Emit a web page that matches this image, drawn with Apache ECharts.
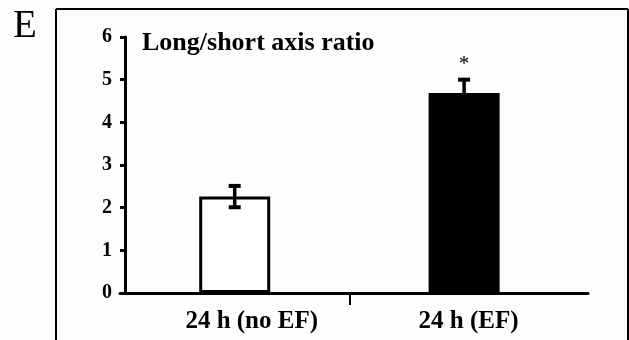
<!DOCTYPE html>
<html>
<head>
<meta charset="utf-8">
<script src="https://cdn.jsdelivr.net/npm/echarts@6/dist/echarts.min.js"></script>
<style>html,body{margin:0;padding:0;background:#fdfdff;}#c{width:629px;height:340px;}</style>
</head>
<body>
<div id="c"></div>
<script>
const categories = ['24 h (no EF)', '24 h (EF)'];
const means = [2.26, 4.69];
const errors = [0.25, 0.31];
const yTicks = [0, 1, 2, 3, 4, 5, 6];
const significance = ['', '*'];

const serif = 'Liberation Serif, Times New Roman, serif';
const chart = echarts.init(document.getElementById('c'));

const barData = means.map((m, i) => ({
  value: [i, m],
  itemStyle: i === 0
    ? { color: '#ffffff', borderColor: '#000', borderWidth: 3 }
    : { color: '#000000' }
}));

const errData = means.map((m, i) => [i, m, errors[i], significance[i]]);

chart.setOption({
  backgroundColor: '#fdfdff',
  animation: false,
  title: {
    text: 'Long/short axis ratio',
    left: 137, top: 25,
    textStyle: { fontFamily: serif, fontWeight: 'bold', fontSize: 26, color: '#000' }
  },
  graphic: [
    { type: 'line', shape: { x1: 56, y1: 9, x2: 628, y2: 9 }, style: { stroke: '#000', lineWidth: 2 } },
    { type: 'line', shape: { x1: 56, y1: 9, x2: 56, y2: 340 }, style: { stroke: '#000', lineWidth: 2 } },
    { type: 'line', shape: { x1: 628, y1: 9, x2: 628, y2: 340 }, style: { stroke: '#000', lineWidth: 2 } },
    { type: 'text', left: 13, top: 7, style: { text: 'E', fontFamily: serif, fontSize: 39, fill: '#000' } }
  ],
  grid: { left: 120, right: 41, top: 37, bottom: 47 },
  xAxis: {
    type: 'value',
    min: -0.5, max: 1.54,
    splitLine: { show: false },
    axisLine: { show: true, onZero: false, lineStyle: { color: '#000', width: 3 } },
    axisTick: { show: true, customValues: [0.5], length: 12, lineStyle: { color: '#000', width: 2 } },
    axisLabel: {
      customValues: [0, 1],
      margin: 16,
      formatter: v => v === 0 ? '{a|' + categories[0] + '}' : '{b|' + categories[v] + '}',
      rich: {
        a: { fontFamily: serif, fontWeight: 'bold', fontSize: 25, color: '#000', padding: [0, 0, 0, 34] },
        b: { fontFamily: serif, fontWeight: 'bold', fontSize: 25, color: '#000', padding: [0, 0, 0, 9] }
      }
    }
  },
  yAxis: {
    type: 'value',
    min: 0, max: 6, interval: 1,
    offset: -5,
    splitLine: { show: false },
    axisLine: { show: true, onZero: false, lineStyle: { color: '#000', width: 3 } },
    axisTick: { show: true, length: 5, lineStyle: { color: '#000', width: 3 } },
    axisLabel: {
      margin: 13,
      fontFamily: serif, fontWeight: 'bold', fontSize: 20, color: '#000',
      formatter: v => yTicks.includes(v) ? String(v) : ''
    }
  },
  series: [
    {
      type: 'bar',
      barWidth: 71,
      data: barData,
      z: 2
    },
    {
      type: 'custom',
      z: 3,
      data: errData,
      renderItem: (params, api) => {
        const x = api.value(0), m = api.value(1), e = api.value(2);
        const top = api.coord([x, m + e]);
        const bot = api.coord([x, m - e]);
        const hw = 6;
        const children = [
          { type: 'line', shape: { x1: top[0], y1: top[1], x2: bot[0], y2: bot[1] }, style: { stroke: '#000', lineWidth: 3.5 } },
          { type: 'line', shape: { x1: top[0] - hw, y1: top[1], x2: top[0] + hw, y2: top[1] }, style: { stroke: '#000', lineWidth: 4 } },
          { type: 'line', shape: { x1: bot[0] - hw, y1: bot[1], x2: bot[0] + hw, y2: bot[1] }, style: { stroke: '#000', lineWidth: 4 } }
        ];
        const sig = significance[params.dataIndex];
        if (sig) {
          children.push({ type: 'text', style: { text: sig, x: top[0], y: top[1] - 15, align: 'center', verticalAlign: 'middle', fontFamily: serif, fontSize: 21, fill: '#000' } });
        }
        return { type: 'group', children };
      }
    }
  ]
});
</script>
</body>
</html>
